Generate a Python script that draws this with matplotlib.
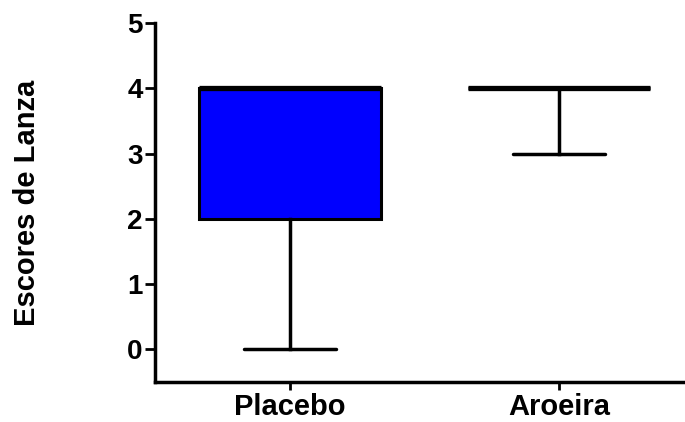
import matplotlib
matplotlib.use("Agg")
import matplotlib.pyplot as plt

plt.rcParams['font.family'] = ['Liberation Sans', 'DejaVu Sans']
plt.rcParams['font.weight'] = 'bold'

# box plot summary values
groups = ['Placebo', 'Aroeira']
mins = [0, 3]
q1s = [2, 4]
medians = [4, 4]
q3s = [4, 4]
maxs = [4, 4]
box_colors = ['#0000FF', 'white']

stats = []
for g, lo, a, m, b, hi in zip(groups, mins, q1s, medians, q3s, maxs):
    stats.append(dict(label=g, whislo=lo, q1=a, med=m, q3=b, whishi=hi, fliers=[]))

fig = plt.figure(figsize=(6.85, 4.22), dpi=100)
ax = fig.add_axes([0.2263, 0.0955, 0.7737, 0.8493])

bp = ax.bxp(stats, positions=[1, 2], widths=0.677, patch_artist=True,
            showfliers=False,
            boxprops=dict(linewidth=2.2, edgecolor='black'),
            medianprops=dict(linewidth=3.8, color='black', solid_capstyle='butt'),
            whiskerprops=dict(linewidth=2.5, color='black'),
            capprops=dict(linewidth=2.5, color='black', solid_capstyle='round'),
            capwidths=0.34)
for patch, c in zip(bp['boxes'], box_colors):
    patch.set_facecolor(c)

ax.set_ylim(-0.5, 5)
ax.set_xlim(0.498, 2.468)
ax.set_yticks([0, 1, 2, 3, 4, 5])
ax.set_xticks([1, 2])
ax.set_xticklabels(groups, fontsize=21, fontweight='bold')
ax.tick_params(axis='y', labelsize=20, width=2, length=7, pad=2)
ax.tick_params(axis='x', width=2, length=6, pad=2)
for lab in ax.get_yticklabels():
    lab.set_fontweight('bold')

ax.spines['top'].set_visible(False)
ax.spines['right'].set_visible(False)
ax.spines['left'].set_linewidth(2.5)
ax.spines['bottom'].set_linewidth(2.5)

ax.set_ylabel('Escores de Lanza', fontsize=21, fontweight='bold', labelpad=62)

fig.savefig('out.png', dpi=100)
